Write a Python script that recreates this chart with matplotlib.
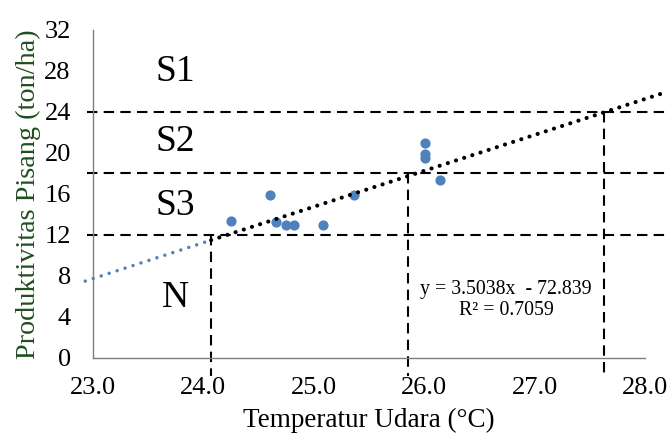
import matplotlib.pyplot as plt
import numpy as np

plt.rcParams['font.family'] = ['Liberation Serif', 'DejaVu Serif']

# data titik (suhu, produktivitas)
suhu = [24.25, 24.60, 24.66, 24.75, 24.82, 25.08, 25.36, 26.01, 26.01, 26.01, 26.14]
produktivitas = [13.4, 15.9, 13.3, 12.95, 12.95, 12.95, 15.9, 21.0, 19.9, 19.55, 17.4]

# persamaan regresi
slope = 3.5038
intercept = -72.839
r2 = 0.7059

# batas kelas kesesuaian
batas_y = [12, 18, 24]
batas_x = [24.07, 25.85, 27.63]
kelas = ["S1", "S2", "S3", "N"]
kelas_y = [27.9, 21.1, 14.9, 5.85]

xticks = [23.0, 24.0, 25.0, 26.0, 27.0, 28.0]
yticks = list(range(0, 33, 4))

fig = plt.figure(figsize=(6.7, 4.37), dpi=100)
ax = fig.add_axes([0.1388, 0.1808, 0.8239, 0.7506])

ax.scatter(suhu, produktivitas, s=40, color="#4F81BD", zorder=3)

# garis tren (bagian biru di bawah 12, hitam di atas)
x_lo = np.linspace(22.93, batas_x[0], 20)
x_hi = np.linspace(batas_x[0], 28.18, 60)
ax.plot(x_lo, slope * x_lo + intercept, color="#4F81BD", lw=2.5,
        linestyle=(0, (0.01, 2.4)), dash_capstyle="round", clip_on=False)
ax.plot(x_hi, slope * x_hi + intercept, color="black", lw=3.0,
        linestyle=(0, (0.01, 2.05)), dash_capstyle="round", clip_on=False, zorder=4)

# garis batas
for yb in batas_y:
    ax.plot([22.95, 28.18], [yb, yb], color="black", lw=1.5,
            linestyle=(0, (5, 3)), clip_on=False)
for xb, yb in zip(batas_x, batas_y):
    ax.plot([xb, xb], [yb, -1.8], color="black", lw=1.5,
            linestyle=(0, (5, 3)), clip_on=False)

for k, ky in zip(kelas, kelas_y):
    ax.text(23.75, ky, k, fontsize=27, ha="center", va="center")

ax.text(26.74, 5.66, "y = 3.5038x  - 72.839\nR² = 0.7059", fontsize=14.3,
        ha="center", va="center", linespacing=1.15)

ax.set_xlim(23, 28)
ax.set_ylim(0, 32)
ax.set_xticks(xticks)
ax.set_xticklabels([f"{t:.1f}" for t in xticks])
ax.set_yticks(yticks)
ax.tick_params(axis="both", length=0, labelsize=19)
ax.tick_params(axis="y", pad=16)
ax.tick_params(axis="x", pad=14)

for s in ["top", "right"]:
    ax.spines[s].set_visible(False)
for s in ["left", "bottom"]:
    ax.spines[s].set_color("#7f7f7f")
    ax.spines[s].set_linewidth(1.0)

ax.set_xlabel("Temperatur Udara (°C)", fontsize=19.5, labelpad=6)
ax.set_ylabel("Produktivitas Pisang (ton/ha)", fontsize=20.3, color="#1F4E1F", labelpad=2)

plt.savefig("out.png", dpi=100)
